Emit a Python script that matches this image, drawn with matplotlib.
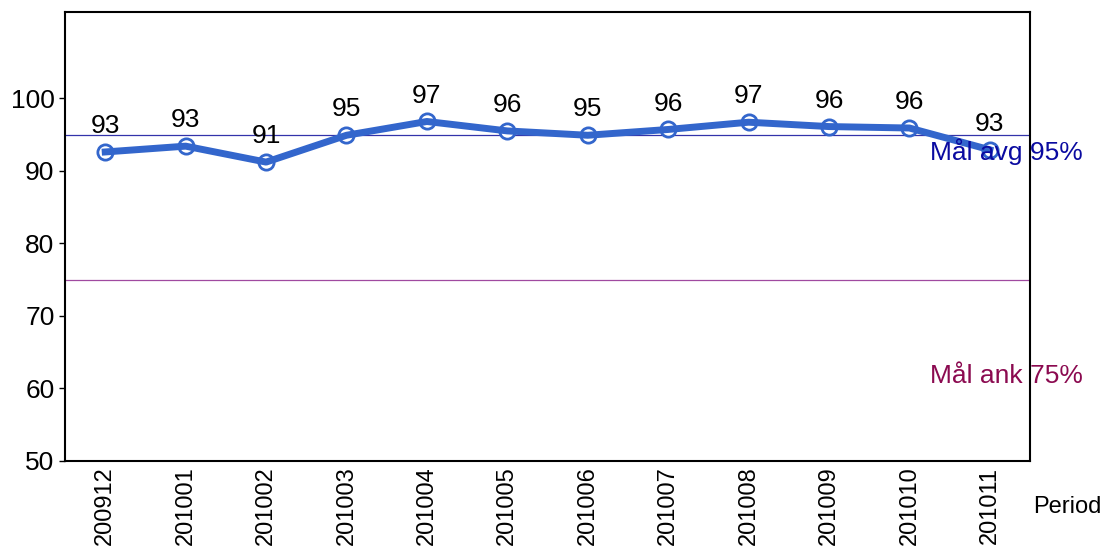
import matplotlib.pyplot as plt

periods = ["200912", "201001", "201002", "201003", "201004", "201005",
           "201006", "201007", "201008", "201009", "201010", "201011"]
values = [92.6, 93.4, 91.2, 94.9, 96.8, 95.5, 94.9, 95.7, 96.7, 96.1, 95.9, 92.9]
goal_avg = 95
goal_ank = 75

plt.rcParams['font.family'] = ['Liberation Sans', 'DejaVu Sans']

fig = plt.figure(figsize=(11.04, 5.48), dpi=100)
ax = fig.add_axes([0.0589, 0.1588, 0.8741, 0.8194])

x = list(range(len(periods)))
ax.axhline(goal_avg, color='#3333AA', lw=0.9, zorder=1)
ax.axhline(goal_ank, color='#A04AA0', lw=0.9, zorder=1)
# open circles under the thick line
ax.plot(x, values, ls='none', marker='o', ms=11,
        mfc='white', mec='#3366CC', mew=2, zorder=2)
ax.plot(x, values, color='#3366CC', lw=5, zorder=3)

for xi, v in zip(x, values):
    ax.text(xi, v + 1.9, f"{v:.0f}", ha='center', va='bottom', fontsize=19)

ax.text(12.16, 92.6, "Mål avg 95%", color='#0A0AA0', fontsize=19,
        ha='right', va='center', clip_on=False, zorder=4)
ax.text(12.16, 61.7, "Mål ank 75%", color='#8B0A50', fontsize=19,
        ha='right', va='center', clip_on=False, zorder=4)

ax.set_xlim(-0.5, 11.5)
ax.set_ylim(50, 111.9)
ax.set_yticks([50, 60, 70, 80, 90, 100])
ax.tick_params(axis='y', labelsize=19, length=4, width=1, direction='out')
ax.set_xticks(x)
ax.set_xticklabels(periods, rotation=90, fontsize=17)
ax.tick_params(axis='x', length=0, pad=4)
for s in ax.spines.values():
    s.set_linewidth(1.5)

fig.text(0.998, 0.075, "Period", ha='right', va='center', fontsize=17)

fig.savefig('out.png', dpi=100)
